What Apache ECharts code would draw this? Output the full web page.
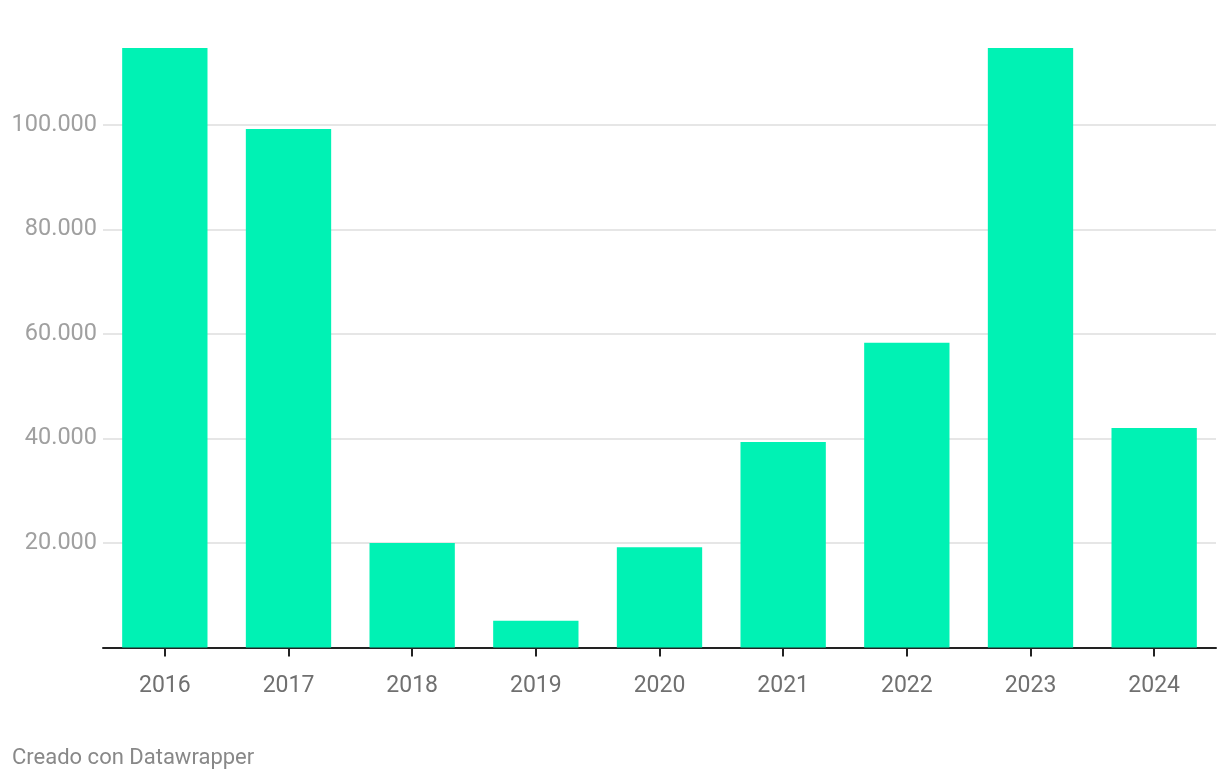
<!DOCTYPE html>
<html>
<head>
<meta charset="utf-8">
<style>
  html, body { margin: 0; padding: 0; background: #ffffff; }
  #chart { width: 1220px; height: 780px; }
</style>
<script src="https://cdn.jsdelivr.net/npm/echarts@6/dist/echarts.min.js"></script>
</head>
<body>
<div id="chart"></div>
<script>
const years = ['2016', '2017', '2018', '2019', '2020', '2021', '2022', '2023', '2024'];
const values = [115000, 99200, 20000, 5100, 19200, 39300, 58300, 115000, 42000];
const yTicks = [20000, 40000, 60000, 80000, 100000];
const footerText = 'Creado con Datawrapper';

function fmt(v) {
  return String(Math.round(v)).replace(/\B(?=(\d{3})+(?!\d))/g, '.');
}

const chart = echarts.init(document.getElementById('chart'), null, { renderer: 'canvas' });
chart.setOption({
  animation: false,
  backgroundColor: '#ffffff',
  textStyle: { fontFamily: 'Roboto' },
  title: {
    text: footerText,
    left: 12,
    top: 747,
    padding: 0,
    textStyle: { fontFamily: 'Roboto', fontSize: 22, fontWeight: 'normal', color: '#888888' }
  },
  grid: { left: 103, right: 4, top: 48, bottom: 132.5, containLabel: false },
  xAxis: {
    type: 'category',
    data: years,
    axisLine: { show: true, lineStyle: { color: '#222222', width: 2 } },
    axisTick: { show: true, alignWithLabel: true, length: 9, lineStyle: { color: '#222222', width: 2 } },
    axisLabel: { fontFamily: 'Roboto', fontSize: 23, color: '#707070', margin: 27 },
    splitLine: { show: false }
  },
  yAxis: {
    type: 'value',
    min: 0,
    max: 114700,
    interval: 20000,
    axisLine: { show: false },
    axisTick: { show: false },
    axisLabel: {
      fontFamily: 'Roboto', fontSize: 23.5, color: '#a0a0a0', margin: 6,
      showMinLabel: false, showMaxLabel: false,
      formatter: function (v) { return yTicks.indexOf(v) >= 0 ? fmt(v) : ''; }
    },
    splitLine: { show: true, showMinLine: false, showMaxLine: false, lineStyle: { color: '#e6e6e6', width: 2 } }
  },
  series: [{
    type: 'bar',
    data: values,
    barWidth: '69%',
    clip: true,
    itemStyle: { color: '#00f2b4' }
  }]
});
</script>
</body>
</html>
